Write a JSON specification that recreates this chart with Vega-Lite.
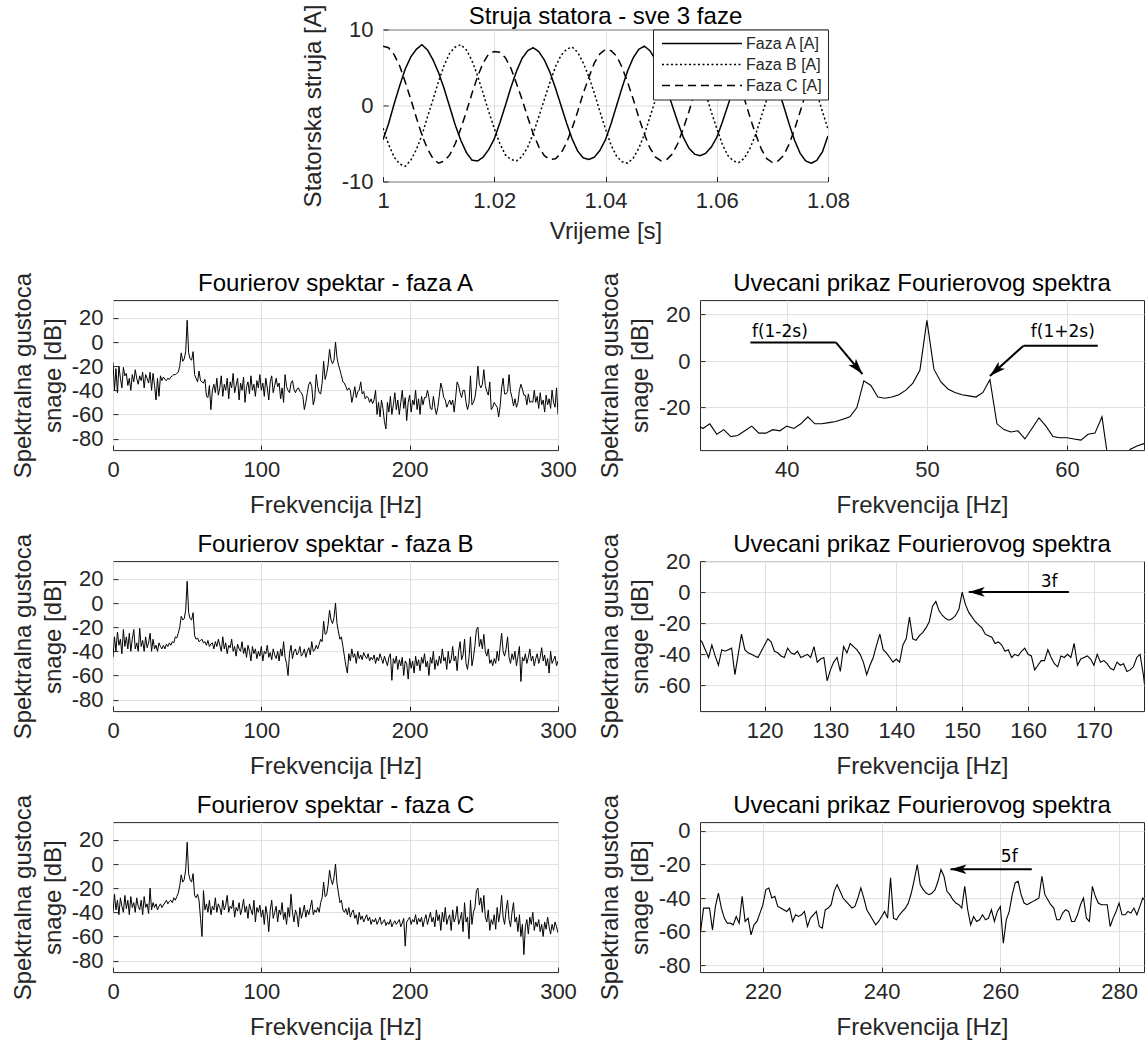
{
"$schema":"https://vega.github.io/schema/vega-lite/v6.json",
"padding":{"left":10,"top":3.5,"right":0,"bottom":0},
"background":"white",
"config":{
 "font":"Liberation Sans",
 "view":{"stroke":"#262626","strokeWidth":1},
 "axis":{"domain":false,"grid":true,"gridColor":"#dfdfdf","gridWidth":1,"ticks":true,"tickSize":-5,"tickColor":"#262626","labelFontSize":22,"labelColor":"#262626","titleFontSize":24,"titleFontWeight":"normal","titleColor":"#262626","labelFlush":false,"labelOverlap":false,"labelExpr":"'' + datum.value"},
 "axisX":{"labelPadding":14},
 "axisY":{"labelPadding":15},
 "title":{"fontSize":24,"fontWeight":"normal","color":"black","baseline":"bottom","offset":-23.5,"frame":"group","anchor":"middle"}
},
"datasets":{
"ts":[
{"t":1.000,"A":-4.5,"B":-3.0,"C":7.8},{"t":1.001,"A":-2.4,"B":-5.1,"C":7.6},{"t":1.002,"A":0.2,"B":-6.8,"C":6.7},{"t":1.003,"A":2.6,"B":-7.7,"C":5.2},{"t":1.004,"A":4.8,"B":-8.0,"C":3.1},{"t":1.005,"A":6.4,"B":-7.2,"C":0.8},{"t":1.006,"A":7.4,"B":-5.8,"C":-1.6},{"t":1.007,"A":8.0,"B":-3.9,"C":-3.9},{"t":1.008,"A":7.3,"B":-1.5,"C":-5.7},{"t":1.009,"A":6.0,"B":0.8,"C":-7.0},
{"t":1.010,"A":4.3,"B":3.2,"C":-7.6},{"t":1.011,"A":2.2,"B":5.3,"C":-7.3},{"t":1.012,"A":-0.2,"B":6.9,"C":-6.5},{"t":1.013,"A":-2.6,"B":7.7,"C":-5.0},{"t":1.014,"A":-4.6,"B":8.0,"C":-3.0},{"t":1.015,"A":-6.2,"B":7.3,"C":-0.8},{"t":1.016,"A":-7.2,"B":5.9,"C":1.6},{"t":1.017,"A":-7.3,"B":3.9,"C":3.8},{"t":1.018,"A":-6.8,"B":1.6,"C":5.6},{"t":1.019,"A":-5.8,"B":-0.8,"C":6.8},
{"t":1.020,"A":-4.4,"B":-3.0,"C":7.1},{"t":1.021,"A":-2.3,"B":-5.0,"C":7.0},{"t":1.022,"A":0,"B":-6.5,"C":6.3},{"t":1.023,"A":2.4,"B":-7.1,"C":4.9},{"t":1.024,"A":4.5,"B":-7.3,"C":2.9},{"t":1.025,"A":6.2,"B":-6.7,"C":0.8},{"t":1.026,"A":7.2,"B":-5.5,"C":-1.5},{"t":1.027,"A":7.6,"B":-3.7,"C":-3.7},{"t":1.028,"A":7.1,"B":-1.5,"C":-5.4},{"t":1.029,"A":6.0,"B":0.8,"C":-6.6},
{"t":1.030,"A":4.4,"B":3.0,"C":-7.1},{"t":1.031,"A":2.3,"B":5.1,"C":-7.0},{"t":1.032,"A":0,"B":6.6,"C":-6.3},{"t":1.033,"A":-2.3,"B":7.4,"C":-4.9},{"t":1.034,"A":-4.4,"B":7.7,"C":-3.0},{"t":1.035,"A":-6.0,"B":7.0,"C":-0.8},{"t":1.036,"A":-6.9,"B":5.6,"C":1.6},{"t":1.037,"A":-7.1,"B":3.8,"C":3.7},{"t":1.038,"A":-6.8,"B":1.6,"C":5.6},{"t":1.039,"A":-5.9,"B":-0.8,"C":6.8},
{"t":1.040,"A":-4.5,"B":-3.1,"C":7.4},{"t":1.041,"A":-2.4,"B":-5.2,"C":7.2},{"t":1.042,"A":0,"B":-6.7,"C":6.5},{"t":1.043,"A":2.4,"B":-7.4,"C":5.0},{"t":1.044,"A":4.6,"B":-7.6,"C":3.0},{"t":1.045,"A":6.3,"B":-6.9,"C":0.8},{"t":1.046,"A":7.4,"B":-5.6,"C":-1.6},{"t":1.047,"A":7.8,"B":-3.8,"C":-3.8},{"t":1.048,"A":7.2,"B":-1.5,"C":-5.6},{"t":1.049,"A":6.0,"B":0.8,"C":-6.8},
{"t":1.050,"A":4.3,"B":3.1,"C":-7.3},{"t":1.051,"A":2.2,"B":5.2,"C":-7.1},{"t":1.052,"A":0,"B":6.7,"C":-6.4},{"t":1.053,"A":-2.2,"B":7.5,"C":-5.0},{"t":1.054,"A":-4.2,"B":7.7,"C":-3.0},{"t":1.055,"A":-5.6,"B":7.0,"C":-0.8},{"t":1.056,"A":-6.4,"B":5.7,"C":1.6},{"t":1.057,"A":-6.6,"B":3.8,"C":3.8},{"t":1.058,"A":-6.3,"B":1.6,"C":5.7},{"t":1.059,"A":-5.5,"B":-0.8,"C":7.0},
{"t":1.060,"A":-4.2,"B":-3.0,"C":7.5},{"t":1.061,"A":-2.2,"B":-5.1,"C":7.3},{"t":1.062,"A":0,"B":-6.6,"C":6.6},{"t":1.063,"A":2.3,"B":-7.3,"C":5.1},{"t":1.064,"A":4.5,"B":-7.5,"C":3.1},{"t":1.065,"A":6.2,"B":-6.9,"C":0.8},{"t":1.066,"A":7.2,"B":-5.6,"C":-1.6},{"t":1.067,"A":7.6,"B":-3.8,"C":-3.8},{"t":1.068,"A":7.2,"B":-1.5,"C":-5.7},{"t":1.069,"A":6.1,"B":0.8,"C":-7.0},
{"t":1.070,"A":4.4,"B":3.1,"C":-7.5},{"t":1.071,"A":2.3,"B":5.2,"C":-7.3},{"t":1.072,"A":0,"B":6.8,"C":-6.6},{"t":1.073,"A":-2.4,"B":7.6,"C":-5.1},{"t":1.074,"A":-4.6,"B":7.8,"C":-3.1},{"t":1.075,"A":-6.3,"B":7.1,"C":-0.8},{"t":1.076,"A":-7.3,"B":5.7,"C":1.6},{"t":1.077,"A":-7.6,"B":3.9,"C":3.9},{"t":1.078,"A":-7.2,"B":1.6,"C":5.8},{"t":1.079,"A":-6.1,"B":-0.8,"C":7.0},
{"t":1.080,"A":-4.0,"B":-3.1,"C":7.6}
],
"spec":[
{"f":0,"a":-17,"b":-45,"c":-40},{"f":1,"a":-40,"b":-28,"c":-25},{"f":2,"a":-22,"b":-40,"c":-38},{"f":3,"a":-42,"b":-24,"c":-30},{"f":4,"a":-20,"b":-35,"c":-42},{"f":5,"a":-30,"b":-30,"c":-28},{"f":6,"a":-38,"b":-42,"c":-35},{"f":7,"a":-21,"b":-22,"c":-40},{"f":8,"a":-28,"b":-36,"c":-26},{"f":9,"a":-26,"b":-28,"c":-37},
{"f":10,"a":-36,"b":-38,"c":-30},{"f":11,"a":-30,"b":-25,"c":-42},{"f":12,"a":-40,"b":-40,"c":-27},{"f":13,"a":-27,"b":-30,"c":-36},{"f":14,"a":-33,"b":-22,"c":-32},{"f":15,"a":-23,"b":-38,"c":-40},{"f":16,"a":-30,"b":-33,"c":-28},{"f":17,"a":-35,"b":-40,"c":-35},{"f":18,"a":-28,"b":-21,"c":-38},{"f":19,"a":-32,"b":-36,"c":-30},
{"f":20,"a":-25,"b":-31,"c":-42},{"f":21,"a":-38,"b":-40,"c":-27},{"f":22,"a":-27,"b":-28,"c":-36},{"f":23,"a":-30,"b":-37,"c":-33},{"f":24,"a":-34,"b":-33,"c":-41},{"f":25,"a":-25,"b":-25,"c":-20},{"f":26,"a":-40,"b":-40,"c":-38},{"f":27,"a":-26,"b":-30,"c":-32},{"f":28,"a":-36,"b":-38,"c":-36},{"f":29,"a":-48,"b":-35,"c":-33},
{"f":30,"a":-30,"b":-40,"c":-38},{"f":31,"a":-45,"b":-33,"c":-35},{"f":32,"a":-28,"b":-36,"c":-33},{"f":33,"a":-32,"b":-38,"c":-36},{"f":34,"a":-29,"b":-35,"c":-34},{"f":35,"a":-31,"b":-38,"c":-32},{"f":36,"a":-32,"b":-34,"c":-30},{"f":37,"a":-30,"b":-36,"c":-33},{"f":38,"a":-31,"b":-33,"c":-31},{"f":39,"a":-29,"b":-35,"c":-30},
{"f":40,"a":-28,"b":-32,"c":-32},{"f":41,"a":-27,"b":-33,"c":-28},{"f":42,"a":-27,"b":-28,"c":-30},{"f":43,"a":-26,"b":-29,"c":-27},{"f":44,"a":-25,"b":-25,"c":-24},{"f":45,"a":-20,"b":-20,"c":-18},{"f":46,"a":-9,"b":-11,"c":-9},{"f":47,"a":-16,"b":-14,"c":-15},{"f":48,"a":-14,"b":-13,"c":-13},{"f":49,"a":-8,"b":-6,"c":-5},
{"f":50,"a":18,"b":18,"c":18},{"f":51,"a":-9,"b":-8,"c":-8},{"f":52,"a":-14,"b":-13,"c":-13},{"f":53,"a":-15,"b":-14,"c":-15},{"f":54,"a":-8,"b":-8,"c":-8},{"f":55,"a":-27,"b":-27,"c":-26},{"f":56,"a":-30,"b":-30,"c":-28},{"f":57,"a":-33,"b":-29,"c":-25},{"f":58,"a":-24,"b":-32,"c":-30},{"f":59,"a":-32,"b":-31,"c":-45},
{"f":60,"a":-33,"b":-30,"c":-60},{"f":61,"a":-34,"b":-33,"c":-22},{"f":62,"a":-31,"b":-32,"c":-38},{"f":63,"a":-45,"b":-35,"c":-33},{"f":64,"a":-46,"b":-31,"c":-40},{"f":65,"a":-36,"b":-36,"c":-30},{"f":66,"a":-56,"b":-34,"c":-42},{"f":67,"a":-40,"b":-33,"c":-35},{"f":68,"a":-35,"b":-38,"c":-38},{"f":69,"a":-42,"b":-32,"c":-28},
{"f":70,"a":-30,"b":-36,"c":-40},{"f":71,"a":-44,"b":-30,"c":-33},{"f":72,"a":-38,"b":-35,"c":-36},{"f":73,"a":-28,"b":-40,"c":-42},{"f":74,"a":-45,"b":-28,"c":-30},{"f":75,"a":-35,"b":-38,"c":-38},{"f":76,"a":-40,"b":-33,"c":-34},{"f":77,"a":-30,"b":-42,"c":-26},{"f":78,"a":-47,"b":-35,"c":-40},{"f":79,"a":-33,"b":-37,"c":-35},
{"f":80,"a":-38,"b":-30,"c":-37},{"f":81,"a":-26,"b":-40,"c":-30},{"f":82,"a":-42,"b":-36,"c":-44},{"f":83,"a":-36,"b":-44,"c":-36},{"f":84,"a":-30,"b":-34,"c":-39},{"f":85,"a":-48,"b":-38,"c":-32},{"f":86,"a":-34,"b":-40,"c":-42},{"f":87,"a":-40,"b":-32,"c":-37},{"f":88,"a":-29,"b":-42,"c":-29},{"f":89,"a":-50,"b":-37,"c":-40},
{"f":90,"a":-37,"b":-45,"c":-35},{"f":91,"a":-33,"b":-35,"c":-45},{"f":92,"a":-43,"b":-40,"c":-33},{"f":93,"a":-28,"b":-48,"c":-38},{"f":94,"a":-40,"b":-36,"c":-42},{"f":95,"a":-35,"b":-42,"c":-30},{"f":96,"a":-45,"b":-38,"c":-48},{"f":97,"a":-32,"b":-46,"c":-36},{"f":98,"a":-38,"b":-40,"c":-40},{"f":99,"a":-27,"b":-44,"c":-34},
{"f":100,"a":-40,"b":-36,"c":-44},{"f":101,"a":-34,"b":-48,"c":-38},{"f":102,"a":-45,"b":-40,"c":-50},{"f":103,"a":-30,"b":-42,"c":-35},{"f":104,"a":-38,"b":-35,"c":-42},{"f":105,"a":-48,"b":-45,"c":-56},{"f":106,"a":-33,"b":-41,"c":-38},{"f":107,"a":-28,"b":-47,"c":-30},{"f":108,"a":-42,"b":-38,"c":-45},{"f":109,"a":-36,"b":-43,"c":-40},
{"f":110,"a":-30,"b":-46,"c":-35},{"f":111,"a":-37,"b":-40,"c":-48},{"f":112,"a":-34,"b":-48,"c":-38},{"f":113,"a":-47,"b":-38,"c":-42},{"f":114,"a":-38,"b":-44,"c":-32},{"f":115,"a":-50,"b":-32,"c":-46},{"f":116,"a":-27,"b":-45,"c":-40},{"f":117,"a":-37,"b":-50,"c":-50},{"f":118,"a":-40,"b":-60,"c":-36},{"f":119,"a":-42,"b":-42,"c":-44},
{"f":120,"a":-34,"b":-35,"c":-25},{"f":121,"a":-32,"b":-46,"c":-40},{"f":122,"a":-39,"b":-40,"c":-48},{"f":123,"a":-42,"b":-38,"c":-38},{"f":124,"a":-39,"b":-43,"c":-42},{"f":125,"a":-38,"b":-41,"c":-52},{"f":126,"a":-41,"b":-36,"c":-36},{"f":127,"a":-42,"b":-44,"c":-45},{"f":128,"a":-45,"b":-42,"c":-40},{"f":129,"a":-56,"b":-38,"c":-34},
{"f":130,"a":-50,"b":-45,"c":-44},{"f":131,"a":-42,"b":-40,"c":-38},{"f":132,"a":-35,"b":-37,"c":-42},{"f":133,"a":-33,"b":-43,"c":-36},{"f":134,"a":-37,"b":-32,"c":-30},{"f":135,"a":-52,"b":-40,"c":-42},{"f":136,"a":-47,"b":-39,"c":-38},{"f":137,"a":-27,"b":-35,"c":-40},{"f":138,"a":-37,"b":-38,"c":-36},{"f":139,"a":-42,"b":-34,"c":-40},
{"f":140,"a":-43,"b":-30,"c":-32},{"f":141,"a":-34,"b":-32,"c":-28},{"f":142,"a":-16,"b":-15,"c":-15},{"f":143,"a":-31,"b":-26,"c":-27},{"f":144,"a":-26,"b":-25,"c":-26},{"f":145,"a":-19,"b":-18,"c":-18},{"f":146,"a":-6,"b":-6,"c":-5},{"f":147,"a":-15,"b":-14,"c":-13},{"f":148,"a":-18,"b":-17,"c":-17},{"f":149,"a":-15,"b":-12,"c":-11},
{"f":150,"a":0,"b":0,"c":0},{"f":151,"a":-13,"b":-17,"c":-16},{"f":152,"a":-19,"b":-24,"c":-24},{"f":153,"a":-23,"b":-30,"c":-32},{"f":154,"a":-28,"b":-28,"c":-30},{"f":155,"a":-33,"b":-36,"c":-38},{"f":156,"a":-34,"b":-44,"c":-40},{"f":157,"a":-37,"b":-52,"c":-37},{"f":158,"a":-40,"b":-58,"c":-42},{"f":159,"a":-38,"b":-42,"c":-36},
{"f":160,"a":-40,"b":-48,"c":-44},{"f":161,"a":-50,"b":-38,"c":-40},{"f":162,"a":-44,"b":-45,"c":-38},{"f":163,"a":-37,"b":-42,"c":-45},{"f":164,"a":-46,"b":-50,"c":-42},{"f":165,"a":-41,"b":-40,"c":-50},{"f":166,"a":-40,"b":-46,"c":-40},{"f":167,"a":-33,"b":-43,"c":-46},{"f":168,"a":-43,"b":-47,"c":-43},{"f":169,"a":-41,"b":-41,"c":-48},
{"f":170,"a":-47,"b":-44,"c":-45},{"f":171,"a":-45,"b":-46,"c":-42},{"f":172,"a":-46,"b":-42,"c":-47},{"f":173,"a":-50,"b":-48,"c":-44},{"f":174,"a":-47,"b":-45,"c":-50},{"f":175,"a":-51,"b":-47,"c":-46},{"f":176,"a":-48,"b":-43,"c":-48},{"f":177,"a":-40,"b":-50,"c":-45},{"f":178,"a":-60,"b":-45,"c":-50},{"f":179,"a":-50,"b":-48,"c":-47},
{"f":180,"a":-62,"b":-42,"c":-44},{"f":181,"a":-48,"b":-46,"c":-50},{"f":182,"a":-55,"b":-50,"c":-48},{"f":183,"a":-66,"b":-44,"c":-46},{"f":184,"a":-72,"b":-48,"c":-51},{"f":185,"a":-50,"b":-52,"c":-48},{"f":186,"a":-58,"b":-45,"c":-50},{"f":187,"a":-45,"b":-42,"c":-46},{"f":188,"a":-60,"b":-64,"c":-52},{"f":189,"a":-52,"b":-46,"c":-49},
{"f":190,"a":-42,"b":-50,"c":-47},{"f":191,"a":-56,"b":-44,"c":-50},{"f":192,"a":-48,"b":-55,"c":-48},{"f":193,"a":-60,"b":-47,"c":-46},{"f":194,"a":-50,"b":-52,"c":-52},{"f":195,"a":-40,"b":-45,"c":-49},{"f":196,"a":-55,"b":-60,"c":-45},{"f":197,"a":-46,"b":-48,"c":-68},{"f":198,"a":-65,"b":-50,"c":-48},{"f":199,"a":-50,"b":-63,"c":-46},
{"f":200,"a":-44,"b":-46,"c":-44},{"f":201,"a":-58,"b":-54,"c":-50},{"f":202,"a":-48,"b":-48,"c":-46},{"f":203,"a":-52,"b":-58,"c":-48},{"f":204,"a":-40,"b":-44,"c":-42},{"f":205,"a":-56,"b":-52,"c":-50},{"f":206,"a":-47,"b":-47,"c":-45},{"f":207,"a":-60,"b":-56,"c":-48},{"f":208,"a":-45,"b":-45,"c":-44},{"f":209,"a":-52,"b":-50,"c":-52},
{"f":210,"a":-46,"b":-42,"c":-46},{"f":211,"a":-46,"b":-53,"c":-42},{"f":212,"a":-40,"b":-48,"c":-50},{"f":213,"a":-46,"b":-60,"c":-45},{"f":214,"a":-55,"b":-45,"c":-40},{"f":215,"a":-56,"b":-50,"c":-48},{"f":216,"a":-45,"b":-40,"c":-44},{"f":217,"a":-54,"b":-55,"c":-52},{"f":218,"a":-60,"b":-47,"c":-38},{"f":219,"a":-54,"b":-52,"c":-47},
{"f":220,"a":-44,"b":-44,"c":-42},{"f":221,"a":-34,"b":-50,"c":-55},{"f":222,"a":-39,"b":-38,"c":-40},{"f":223,"a":-46,"b":-48,"c":-48},{"f":224,"a":-48,"b":-45,"c":-36},{"f":225,"a":-54,"b":-55,"c":-50},{"f":226,"a":-51,"b":-40,"c":-45},{"f":227,"a":-48,"b":-50,"c":-42},{"f":228,"a":-52,"b":-47,"c":-55},{"f":229,"a":-48,"b":-36,"c":-38},
{"f":230,"a":-58,"b":-48,"c":-48},{"f":231,"a":-46,"b":-44,"c":-44},{"f":232,"a":-33,"b":-56,"c":-35},{"f":233,"a":-36,"b":-40,"c":-50},{"f":234,"a":-42,"b":-32,"c":-46},{"f":235,"a":-46,"b":-47,"c":-40},{"f":236,"a":-40,"b":-43,"c":-56},{"f":237,"a":-40,"b":-30,"c":-32},{"f":238,"a":-50,"b":-50,"c":-48},{"f":239,"a":-56,"b":-55,"c":-44},
{"f":240,"a":-51,"b":-45,"c":-62},{"f":241,"a":-28,"b":-28,"c":-30},{"f":242,"a":-52,"b":-52,"c":-50},{"f":243,"a":-50,"b":-45,"c":-40},{"f":244,"a":-46,"b":-35,"c":-36},{"f":245,"a":-37,"b":-22,"c":-22},{"f":246,"a":-20,"b":-20,"c":-20},{"f":247,"a":-35,"b":-36,"c":-34},{"f":248,"a":-38,"b":-30,"c":-28},{"f":249,"a":-35,"b":-38,"c":-40},
{"f":250,"a":-23,"b":-26,"c":-26},{"f":251,"a":-36,"b":-40,"c":-44},{"f":252,"a":-41,"b":-44,"c":-48},{"f":253,"a":-44,"b":-38,"c":-38},{"f":254,"a":-33,"b":-50,"c":-55},{"f":255,"a":-56,"b":-47,"c":-46},{"f":256,"a":-54,"b":-52,"c":-50},{"f":257,"a":-50,"b":-46,"c":-42},{"f":258,"a":-52,"b":-50,"c":-54},{"f":259,"a":-54,"b":-40,"c":-36},
{"f":260,"a":-62,"b":-48,"c":-48},{"f":261,"a":-53,"b":-36,"c":-40},{"f":262,"a":-38,"b":-25,"c":-26},{"f":263,"a":-30,"b":-40,"c":-44},{"f":264,"a":-43,"b":-44,"c":-50},{"f":265,"a":-43,"b":-38,"c":-38},{"f":266,"a":-41,"b":-28,"c":-30},{"f":267,"a":-27,"b":-45,"c":-46},{"f":268,"a":-41,"b":-50,"c":-52},{"f":269,"a":-46,"b":-42,"c":-40},
{"f":270,"a":-53,"b":-47,"c":-32},{"f":271,"a":-47,"b":-40,"c":-48},{"f":272,"a":-54,"b":-52,"c":-44},{"f":273,"a":-50,"b":-44,"c":-56},{"f":274,"a":-40,"b":-36,"c":-42},{"f":275,"a":-35,"b":-65,"c":-60},{"f":276,"a":-39,"b":-45,"c":-50},{"f":277,"a":-44,"b":-48,"c":-75},{"f":278,"a":-44,"b":-42,"c":-52},{"f":279,"a":-52,"b":-50,"c":-46},
{"f":280,"a":-43,"b":-45,"c":-58},{"f":281,"a":-50,"b":-38,"c":-44},{"f":282,"a":-49,"b":-48,"c":-50},{"f":283,"a":-50,"b":-44,"c":-40},{"f":284,"a":-40,"b":-52,"c":-55},{"f":285,"a":-50,"b":-46,"c":-48},{"f":286,"a":-45,"b":-42,"c":-52},{"f":287,"a":-55,"b":-50,"c":-46},{"f":288,"a":-42,"b":-45,"c":-56},{"f":289,"a":-52,"b":-37,"c":-50},
{"f":290,"a":-48,"b":-48,"c":-60},{"f":291,"a":-58,"b":-43,"c":-48},{"f":292,"a":-44,"b":-52,"c":-54},{"f":293,"a":-52,"b":-46,"c":-44},{"f":294,"a":-47,"b":-58,"c":-52},{"f":295,"a":-55,"b":-40,"c":-58},{"f":296,"a":-40,"b":-50,"c":-50},{"f":297,"a":-50,"b":-47,"c":-55},{"f":298,"a":-54,"b":-44,"c":-48},{"f":299,"a":-38,"b":-52,"c":-52},
{"f":300,"a":-60,"b":-48,"c":-57}
],
"z1":[
{"f":33.5,"v":-27},{"f":34,"v":-29},{"f":34.5,"v":-27},{"f":35,"v":-31.5},{"f":35.5,"v":-29.5},{"f":36,"v":-32.5},{"f":36.5,"v":-32},{"f":37,"v":-30},{"f":37.5,"v":-28},{"f":38,"v":-31},{"f":38.5,"v":-31},{"f":39,"v":-29.5},{"f":39.5,"v":-30},{"f":40,"v":-28},{"f":40.5,"v":-29},{"f":41,"v":-27},{"f":41.5,"v":-24},{"f":42,"v":-27},{"f":42.5,"v":-27},{"f":43,"v":-26.5},{"f":43.5,"v":-26},{"f":44,"v":-25},{"f":44.5,"v":-24},{"f":45,"v":-20},{"f":45.5,"v":-8.5},{"f":46,"v":-10.5},{"f":46.5,"v":-15.5},{"f":47,"v":-16},{"f":47.5,"v":-15.5},{"f":48,"v":-14.5},{"f":48.5,"v":-12.5},{"f":49,"v":-9.5},{"f":49.5,"v":-4},{"f":50,"v":17.5},{"f":50.5,"v":-3.5},{"f":51,"v":-9},{"f":51.5,"v":-12},{"f":52,"v":-13.5},{"f":52.5,"v":-14.5},{"f":53,"v":-15},{"f":53.5,"v":-15.5},{"f":54,"v":-13.5},{"f":54.5,"v":-8},{"f":55,"v":-27},{"f":55.5,"v":-29.5},{"f":56,"v":-30.5},{"f":56.5,"v":-30},{"f":57,"v":-33.5},{"f":57.5,"v":-29},{"f":58,"v":-24.5},{"f":58.5,"v":-28},{"f":59,"v":-32.5},{"f":59.5,"v":-33},{"f":60,"v":-33},{"f":60.5,"v":-33.5},{"f":61,"v":-34},{"f":61.5,"v":-31.5},{"f":62,"v":-31},{"f":62.5,"v":-24},{"f":63,"v":-45},{"f":63.5,"v":-50},{"f":64,"v":-46},{"f":64.5,"v":-38},{"f":65,"v":-36.5},{"f":65.5,"v":-35.5}
],
"z2":[
{"f":110,"v":-30},{"f":110.5,"v":-32},{"f":111,"v":-37},{"f":111.5,"v":-42},{"f":112,"v":-34},{"f":112.5,"v":-41},{"f":113,"v":-47},{"f":113.5,"v":-37},{"f":114,"v":-38},{"f":114.5,"v":-37},{"f":115,"v":-36},{"f":115.5,"v":-53},{"f":116,"v":-40},{"f":116.5,"v":-27},{"f":117,"v":-37},{"f":117.5,"v":-39},{"f":118,"v":-40},{"f":118.5,"v":-41},{"f":119,"v":-42},{"f":119.5,"v":-38},{"f":120,"v":-34},{"f":120.5,"v":-30},{"f":121,"v":-32},{"f":121.5,"v":-38},{"f":122,"v":-39},{"f":122.5,"v":-41},{"f":123,"v":-42},{"f":123.5,"v":-36},{"f":124,"v":-39},{"f":124.5,"v":-40},{"f":125,"v":-38},{"f":125.5,"v":-42},{"f":126,"v":-41},{"f":126.5,"v":-40},{"f":127,"v":-42},{"f":127.5,"v":-35},{"f":128,"v":-45},{"f":128.5,"v":-43},{"f":129,"v":-42},{"f":129.5,"v":-57},{"f":130,"v":-50},{"f":130.5,"v":-45},{"f":131,"v":-42},{"f":131.5,"v":-51},{"f":132,"v":-35},{"f":132.5,"v":-39},{"f":133,"v":-33},{"f":133.5,"v":-35},{"f":134,"v":-37},{"f":134.5,"v":-40},{"f":135,"v":-45},{"f":135.5,"v":-53},{"f":136,"v":-47},{"f":136.5,"v":-42},{"f":137,"v":-34},{"f":137.5,"v":-27},{"f":138,"v":-37},{"f":138.5,"v":-39},{"f":139,"v":-42},{"f":139.5,"v":-45},{"f":140,"v":-43},{"f":140.5,"v":-45},{"f":141,"v":-34},{"f":141.5,"v":-30},{"f":142,"v":-16},{"f":142.5,"v":-30},{"f":143,"v":-31},{"f":143.5,"v":-28},{"f":144,"v":-26},{"f":144.5,"v":-23},{"f":145,"v":-19},{"f":145.5,"v":-9},{"f":146,"v":-6},{"f":146.5,"v":-12},{"f":147,"v":-15},{"f":147.5,"v":-17},{"f":148,"v":-18},{"f":148.5,"v":-17},{"f":149,"v":-15},{"f":149.5,"v":-11},{"f":150,"v":0},{"f":150.5,"v":-8},{"f":151,"v":-13},{"f":151.5,"v":-16},{"f":152,"v":-19},{"f":152.5,"v":-21},{"f":153,"v":-23},{"f":153.5,"v":-27},{"f":154,"v":-28},{"f":154.5,"v":-29},{"f":155,"v":-33},{"f":155.5,"v":-32},{"f":156,"v":-34},{"f":156.5,"v":-38},{"f":157,"v":-37},{"f":157.5,"v":-42},{"f":158,"v":-40},{"f":158.5,"v":-41},{"f":159,"v":-38},{"f":159.5,"v":-36},{"f":160,"v":-40},{"f":160.5,"v":-41},{"f":161,"v":-50},{"f":161.5,"v":-47},{"f":162,"v":-44},{"f":162.5,"v":-44},{"f":163,"v":-37},{"f":163.5,"v":-42},{"f":164,"v":-46},{"f":164.5,"v":-48},{"f":165,"v":-41},{"f":165.5,"v":-42},{"f":166,"v":-40},{"f":166.5,"v":-42},{"f":167,"v":-33},{"f":167.5,"v":-47},{"f":168,"v":-43},{"f":168.5,"v":-42},{"f":169,"v":-41},{"f":169.5,"v":-43},{"f":170,"v":-47},{"f":170.5,"v":-40},{"f":171,"v":-45},{"f":171.5,"v":-44},{"f":172,"v":-46},{"f":172.5,"v":-49},{"f":173,"v":-50},{"f":173.5,"v":-45},{"f":174,"v":-47},{"f":174.5,"v":-46},{"f":175,"v":-51},{"f":175.5,"v":-50},{"f":176,"v":-48},{"f":176.5,"v":-42},{"f":177,"v":-40},{"f":177.5,"v":-53},{"f":178,"v":-71}
],
"z3":[
{"f":209,"v":-55},{"f":209.5,"v":-60},{"f":210,"v":-46},{"f":210.5,"v":-46},{"f":211,"v":-46},{"f":211.5,"v":-59},{"f":212,"v":-45},{"f":212.5,"v":-37},{"f":213,"v":-46},{"f":213.5,"v":-52},{"f":214,"v":-55},{"f":214.5,"v":-55},{"f":215,"v":-56},{"f":215.5,"v":-51},{"f":216,"v":-55},{"f":216.5,"v":-39},{"f":217,"v":-54},{"f":217.5,"v":-52},{"f":218,"v":-62},{"f":218.5,"v":-56},{"f":219,"v":-54},{"f":219.5,"v":-49},{"f":220,"v":-44},{"f":220.5,"v":-35},{"f":221,"v":-34},{"f":221.5,"v":-40},{"f":222,"v":-39},{"f":222.5,"v":-45},{"f":223,"v":-46},{"f":223.5,"v":-47},{"f":224,"v":-48},{"f":224.5,"v":-46},{"f":225,"v":-54},{"f":225.5,"v":-50},{"f":226,"v":-51},{"f":226.5,"v":-50},{"f":227,"v":-48},{"f":227.5,"v":-57},{"f":228,"v":-52},{"f":228.5,"v":-50},{"f":229,"v":-48},{"f":229.5,"v":-57},{"f":230,"v":-58},{"f":230.5,"v":-47},{"f":231,"v":-46},{"f":231.5,"v":-44},{"f":232,"v":-36},{"f":232.5,"v":-32},{"f":233,"v":-36},{"f":233.5,"v":-40},{"f":234,"v":-42},{"f":234.5,"v":-44},{"f":235,"v":-46},{"f":235.5,"v":-45},{"f":236,"v":-40},{"f":236.5,"v":-34},{"f":237,"v":-40},{"f":237.5,"v":-47},{"f":238,"v":-50},{"f":238.5,"v":-53},{"f":239,"v":-56},{"f":239.5,"v":-54},{"f":240,"v":-51},{"f":240.5,"v":-48},{"f":241,"v":-52},{"f":241.5,"v":-28},{"f":242,"v":-52},{"f":242.5,"v":-53},{"f":243,"v":-50},{"f":243.5,"v":-48},{"f":244,"v":-46},{"f":244.5,"v":-43},{"f":245,"v":-37},{"f":245.5,"v":-29},{"f":246,"v":-20},{"f":246.5,"v":-32},{"f":247,"v":-35},{"f":247.5,"v":-37},{"f":248,"v":-38},{"f":248.5,"v":-37},{"f":249,"v":-35},{"f":249.5,"v":-30},{"f":250,"v":-23},{"f":250.5,"v":-27},{"f":251,"v":-36},{"f":251.5,"v":-38},{"f":252,"v":-41},{"f":252.5,"v":-43},{"f":253,"v":-44},{"f":253.5,"v":-46},{"f":254,"v":-33},{"f":254.5,"v":-47},{"f":255,"v":-56},{"f":255.5,"v":-51},{"f":256,"v":-54},{"f":256.5,"v":-53},{"f":257,"v":-50},{"f":257.5,"v":-53},{"f":258,"v":-52},{"f":258.5,"v":-47},{"f":259,"v":-54},{"f":259.5,"v":-48},{"f":260,"v":-45},{"f":260.5,"v":-67},{"f":261,"v":-53},{"f":261.5,"v":-48},{"f":262,"v":-38},{"f":262.5,"v":-31},{"f":263,"v":-30},{"f":263.5,"v":-38},{"f":264,"v":-43},{"f":264.5,"v":-44},{"f":265,"v":-43},{"f":265.5,"v":-42},{"f":266,"v":-41},{"f":266.5,"v":-40},{"f":267,"v":-27},{"f":267.5,"v":-38},{"f":268,"v":-41},{"f":268.5,"v":-44},{"f":269,"v":-46},{"f":269.5,"v":-53},{"f":270,"v":-53},{"f":270.5,"v":-49},{"f":271,"v":-47},{"f":271.5,"v":-48},{"f":272,"v":-54},{"f":272.5,"v":-54},{"f":273,"v":-50},{"f":273.5,"v":-44},{"f":274,"v":-40},{"f":274.5,"v":-52},{"f":275,"v":-54},{"f":275.5,"v":-33},{"f":276,"v":-39},{"f":276.5,"v":-43},{"f":277,"v":-44},{"f":277.5,"v":-44},{"f":278,"v":-44},{"f":278.5,"v":-57},{"f":279,"v":-52},{"f":279.5,"v":-48},{"f":280,"v":-43},{"f":280.5,"v":-50},{"f":281,"v":-50},{"f":281.5,"v":-48},{"f":282,"v":-49},{"f":282.5,"v":-46},{"f":283,"v":-50},{"f":283.5,"v":-45},{"f":284,"v":-40},{"f":284.5,"v":-42}
],
"seg1":[{"f":37.4,"v":8.0,"f2":43.5,"v2":8.0},{"f":43.5,"v":8.0,"f2":45.4,"v2":-5.6},{"f":62.2,"v":6.6,"f2":56.9,"v2":6.6},{"f":56.9,"v":6.6,"f2":54.5,"v2":-6.4}],
"tipL1":[{"f":45.4,"v":-5.6}],
"tipR1":[{"f":54.5,"v":-6.4}],
"lab1":[{"f":39.5,"v":12.3,"txt":"f(1-2s)"},{"f":59.7,"v":12.3,"txt":"f(1+2s)"}],
"seg2":[{"f":166.2,"v":0.2,"f2":151,"v2":0.2}],
"tip2":[{"f":151,"v":0.2}],
"lab2":[{"f":163.2,"v":6.7,"txt":"3f"}],
"seg3":[{"f":265.3,"v":-22.8,"f2":251.6,"v2":-22.8}],
"tip3":[{"f":251.6,"v":-22.8}],
"lab3":[{"f":261.5,"v":-15.8,"txt":"5f"}]
},
"spacing":26.6,
"resolve":{"legend":{"strokeDash":"independent"}},
"vconcat":[
{"hconcat":[
  {"width":270,"height":152,"view":{"stroke":null},"data":{"values":[{"s":0}]},"mark":{"type":"point","opacity":0}},
  {"width":445,"height":152,
   "title":{"text":"Struja statora - sve 3 faze","offset":-25},
   "data":{"name":"ts"},
   "transform":[{"fold":["A","B","C"],"as":["faza","I"]}],
   "mark":{"type":"line","strokeWidth":1.5,"color":"black","clip":true},
   "encoding":{
    "x":{"field":"t","type":"quantitative","scale":{"domain":[1,1.08],"nice":false,"zero":false},"axis":{"title":"Vrijeme [s]","values":[1,1.02,1.04,1.06,1.08],"titleY":57,"titleBaseline":"alphabetic"}},
    "y":{"field":"I","type":"quantitative","scale":{"domain":[-10,10],"nice":false},"axis":{"title":"Statorska struja [A]","values":[-10,0,10],"titleX":-58,"titleY":76,"titleAlign":"center","titleBaseline":"bottom"}},
    "strokeDash":{"field":"faza","type":"nominal","scale":{"domain":["A","B","C"],"range":[[1,0],[2,2.5],[8,5]]},
      "legend":{"orient":"top-right","offset":0,"title":null,"labelExpr":"'Faza ' + datum.label + ' [A]'","symbolType":"M-1,0H15","symbolSize":100,"symbolStrokeWidth":1.5,"symbolStrokeColor":"black","symbolFillColor":"transparent","labelFontSize":16,"labelColor":"#262626","labelOffset":71,"rowPadding":5,"padding":6,"fillColor":"white","strokeColor":"#262626","cornerRadius":0}}
   }
  }
 ],"spacing":0,"bounds":"flush","resolve":{"legend":{"strokeDash":"independent"}}},
{"vconcat":[
 {"hconcat":[
  {"width":445,"height":150,"title":{"text":"Fourierov spektar - faza A"},"data":{"name":"spec"},
   "mark":{"type":"line","strokeWidth":1,"color":"black","clip":true},
   "encoding":{
    "x":{"field":"f","type":"quantitative","scale":{"domain":[0,300],"nice":false,"zero":false},"axis":{"title":"Frekvencija [Hz]","values":[0,100,200,300],"titleY":62,"titleBaseline":"alphabetic"}},
    "y":{"field":"a","type":"quantitative","scale":{"domain":[-89.5,34.7],"nice":false,"zero":false},"axis":{"title":["Spektralna gustoca","snage [dB]"],"values":[-80,-60,-40,-20,0,20],"titleX":-78,"titleY":75,"titleAlign":"center","titleBaseline":"bottom","titleLineHeight":30}}
   }},
  {"width":444,"height":150,"title":{"text":"Uvecani prikaz Fourierovog spektra"},
   "encoding":{
    "x":{"field":"f","type":"quantitative","scale":{"domain":[33.8,65.5],"nice":false,"zero":false},"axis":{"title":"Frekvencija [Hz]","values":[40,50,60],"titleY":62,"titleBaseline":"alphabetic"}},
    "y":{"field":"v","type":"quantitative","scale":{"domain":[-38.3,26.2],"nice":false,"zero":false},"axis":{"title":["Spektralna gustoca","snage [dB]"],"values":[-20,0,20],"titleX":-78,"titleY":75,"titleAlign":"center","titleBaseline":"bottom","titleLineHeight":30}}
   },
   "layer":[
    {"data":{"name":"z1"},"mark":{"type":"line","strokeWidth":1.1,"color":"black","clip":true}},
    {"data":{"name":"seg1"},"mark":{"type":"rule","strokeWidth":2,"color":"black"},"encoding":{"x2":{"field":"f2"},"y2":{"field":"v2"}}},
    {"data":{"name":"tipL1"},"mark":{"type":"point","shape":"M0,0L0.6,2L0,1.5L-0.6,2Z","size":256,"filled":true,"color":"black","opacity":1,"strokeWidth":0,"angle":140}},
    {"data":{"name":"tipR1"},"mark":{"type":"point","shape":"M0,0L0.6,2L0,1.5L-0.6,2Z","size":256,"filled":true,"color":"black","opacity":1,"strokeWidth":0,"angle":228}},
    {"data":{"name":"lab1"},"mark":{"type":"text","font":"DejaVu Sans","fontSize":17,"align":"center","baseline":"middle","color":"black"},"encoding":{"text":{"field":"txt"}}}
   ]}
 ],"spacing":142,"bounds":"flush"},
 {"hconcat":[
  {"width":445,"height":150,"title":{"text":"Fourierov spektar - faza B"},"data":{"name":"spec"},
   "mark":{"type":"line","strokeWidth":1,"color":"black","clip":true},
   "encoding":{
    "x":{"field":"f","type":"quantitative","scale":{"domain":[0,300],"nice":false,"zero":false},"axis":{"title":"Frekvencija [Hz]","values":[0,100,200,300],"titleY":62,"titleBaseline":"alphabetic"}},
    "y":{"field":"b","type":"quantitative","scale":{"domain":[-89.5,34.7],"nice":false,"zero":false},"axis":{"title":["Spektralna gustoca","snage [dB]"],"values":[-80,-60,-40,-20,0,20],"titleX":-78,"titleY":75,"titleAlign":"center","titleBaseline":"bottom","titleLineHeight":30}}
   }},
  {"width":444,"height":150,"title":{"text":"Uvecani prikaz Fourierovog spektra"},
   "encoding":{
    "x":{"field":"f","type":"quantitative","scale":{"domain":[110.2,177.6],"nice":false,"zero":false},"axis":{"title":"Frekvencija [Hz]","values":[120,130,140,150,160,170],"titleY":62,"titleBaseline":"alphabetic"}},
    "y":{"field":"v","type":"quantitative","scale":{"domain":[-76.5,20],"nice":false,"zero":false},"axis":{"title":["Spektralna gustoca","snage [dB]"],"values":[-60,-40,-20,0,20],"titleX":-78,"titleY":75,"titleAlign":"center","titleBaseline":"bottom","titleLineHeight":30}}
   },
   "layer":[
    {"data":{"name":"z2"},"mark":{"type":"line","strokeWidth":1.1,"color":"black","clip":true}},
    {"data":{"name":"seg2"},"mark":{"type":"rule","strokeWidth":2,"color":"black"},"encoding":{"x2":{"field":"f2"},"y2":{"field":"v2"}}},
    {"data":{"name":"tip2"},"mark":{"type":"point","shape":"M0,0L0.6,2L0,1.5L-0.6,2Z","size":256,"filled":true,"color":"black","opacity":1,"strokeWidth":0,"angle":270}},
    {"data":{"name":"lab2"},"mark":{"type":"text","font":"DejaVu Sans","fontSize":17,"align":"center","baseline":"middle","color":"black"},"encoding":{"text":{"field":"txt"}}}
   ]}
 ],"spacing":142,"bounds":"flush"},
 {"hconcat":[
  {"width":445,"height":150,"title":{"text":"Fourierov spektar - faza C"},"data":{"name":"spec"},
   "mark":{"type":"line","strokeWidth":1,"color":"black","clip":true},
   "encoding":{
    "x":{"field":"f","type":"quantitative","scale":{"domain":[0,300],"nice":false,"zero":false},"axis":{"title":"Frekvencija [Hz]","values":[0,100,200,300],"titleY":62,"titleBaseline":"alphabetic"}},
    "y":{"field":"c","type":"quantitative","scale":{"domain":[-89.5,34.7],"nice":false,"zero":false},"axis":{"title":["Spektralna gustoca","snage [dB]"],"values":[-80,-60,-40,-20,0,20],"titleX":-78,"titleY":75,"titleAlign":"center","titleBaseline":"bottom","titleLineHeight":30}}
   }},
  {"width":444,"height":150,"title":{"text":"Uvecani prikaz Fourierovog spektra"},
   "encoding":{
    "x":{"field":"f","type":"quantitative","scale":{"domain":[209.4,284.2],"nice":false,"zero":false},"axis":{"title":"Frekvencija [Hz]","values":[220,240,260,280],"titleY":62,"titleBaseline":"alphabetic"}},
    "y":{"field":"v","type":"quantitative","scale":{"domain":[-84.2,5.3],"nice":false,"zero":false},"axis":{"title":["Spektralna gustoca","snage [dB]"],"values":[-80,-60,-40,-20,0],"titleX":-78,"titleY":75,"titleAlign":"center","titleBaseline":"bottom","titleLineHeight":30}}
   },
   "layer":[
    {"data":{"name":"z3"},"mark":{"type":"line","strokeWidth":1.1,"color":"black","clip":true}},
    {"data":{"name":"seg3"},"mark":{"type":"rule","strokeWidth":2,"color":"black"},"encoding":{"x2":{"field":"f2"},"y2":{"field":"v2"}}},
    {"data":{"name":"tip3"},"mark":{"type":"point","shape":"M0,0L0.6,2L0,1.5L-0.6,2Z","size":256,"filled":true,"color":"black","opacity":1,"strokeWidth":0,"angle":270}},
    {"data":{"name":"lab3"},"mark":{"type":"text","font":"DejaVu Sans","fontSize":17,"align":"center","baseline":"middle","color":"black"},"encoding":{"text":{"field":"txt"}}}
   ]}
 ],"spacing":142,"bounds":"flush"}
],"spacing":14.0}
]
}
